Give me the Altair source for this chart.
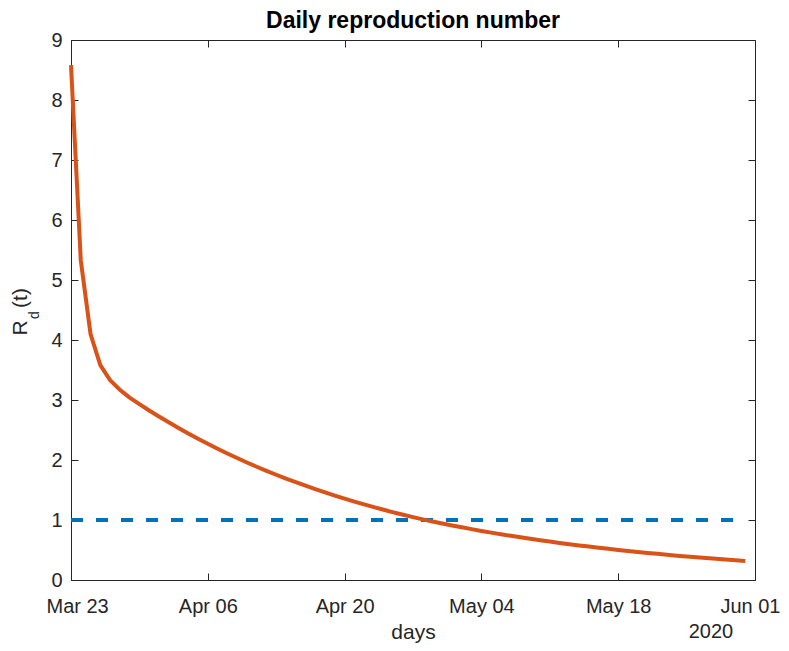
import altair as alt
import pandas as pd

# ---- data ----
start_date = "2020-03-23"
rd_values = [
    8.580, 5.330, 4.100, 3.580, 3.330, 3.170, 3.040, 2.930, 2.826, 2.726,
    2.630, 2.535, 2.443, 2.355, 2.270, 2.188, 2.109, 2.033, 1.959, 1.888,
    1.820, 1.754, 1.691, 1.630, 1.571, 1.514, 1.459, 1.407, 1.356, 1.307,
    1.260, 1.214, 1.170, 1.128, 1.087, 1.048, 1.010, 0.975, 0.942, 0.909,
    0.878, 0.848, 0.818, 0.790, 0.763, 0.737, 0.711, 0.687, 0.663, 0.640,
    0.618, 0.597, 0.576, 0.557, 0.537, 0.519, 0.501, 0.484, 0.467, 0.451,
    0.436, 0.421, 0.406, 0.392, 0.379, 0.366, 0.353, 0.341, 0.329, 0.318,
]
threshold = 1.0
x_tick_dates = ["2020-03-23", "2020-04-06", "2020-04-20", "2020-05-04", "2020-05-18", "2020-06-01"]
x_domain = ["2020-03-23", "2020-06-01"]
y_ticks = [0, 1, 2, 3, 4, 5, 6, 7, 8, 9]
y_domain = [0, 9]
title_text = "Daily reproduction number"
x_title = "days"
year_label = "2020"

FONT = "Liberation Sans"
AX = "#262626"

dates = pd.date_range(start_date, periods=len(rd_values), freq="D")
df = pd.DataFrame({"date": dates.strftime("%Y-%m-%d"), "rd": rd_values})
thr_df = pd.DataFrame({
    "start": [dates[0].strftime("%Y-%m-%d")],
    "end": [dates[-1].strftime("%Y-%m-%d")],
    "value": [threshold],
})


def dt(s):
    y, m, d = (int(p) for p in s.split("-"))
    return alt.DateTime(year=y, month=m, date=d, utc=True)


xscale = alt.Scale(type="utc", domain=[dt(s) for s in x_domain], nice=False)
yscale = alt.Scale(domain=y_domain, nice=False, zero=True)
xvals = [dt(s) for s in x_tick_dates]

common = dict(domain=False, grid=False, tickSize=7, offset=-7,
              tickColor=AX, tickWidth=1)

bottom_axis = alt.Axis(orient="bottom", values=xvals, format="%b %d",
                       labelPadding=16, labelFlush=True, labelFlushOffset=25,
                       title=x_title,
                       titleFontSize=21, titleFontWeight="normal",
                       titleY=65, titleBaseline="alphabetic", **common)
left_axis = alt.Axis(orient="left", values=y_ticks, labelPadding=9,
                     labelFlush=False, title=None, **common)
top_axis = alt.Axis(orient="top", values=xvals, labels=False, title=None,
                    **common)
right_axis = alt.Axis(orient="right", values=y_ticks, labels=False,
                      title=None, **common)

rule = alt.Chart(thr_df).mark_rule(
    color="#0072BD", strokeWidth=4, strokeDash=[12, 13]
).encode(
    x=alt.X("start:T", scale=xscale, axis=top_axis),
    x2="end:T",
    y=alt.Y("value:Q", scale=yscale, axis=right_axis),
)

line = alt.Chart(df).mark_line(color="#D95319", strokeWidth=4).encode(
    x=alt.X("date:T", scale=xscale, axis=bottom_axis),
    y=alt.Y("rd:Q", scale=yscale, axis=left_axis),
)

one = pd.DataFrame({"k": [0]})

ylab_r = alt.Chart(one).mark_text(
    text="R", angle=270, align="center", baseline="alphabetic",
    font=FONT, fontSize=21, color=AX
).encode(x=alt.value(-44), y=alt.value(288))

ylab_d = alt.Chart(one).mark_text(
    text="d", angle=270, align="center", baseline="alphabetic",
    font=FONT, fontSize=14, color=AX
).encode(x=alt.value(-32), y=alt.value(275))

ylab_t = alt.Chart(one).mark_text(
    text="(t)", angle=270, align="center", baseline="alphabetic",
    font=FONT, fontSize=21, color=AX
).encode(x=alt.value(-44), y=alt.value(258))

year = alt.Chart(one).mark_text(
    text=year_label, align="center", baseline="alphabetic",
    font=FONT, fontSize=20, color=AX
).encode(x=alt.value(640), y=alt.value(598))

chart = alt.layer(rule, line, ylab_r, ylab_d, ylab_t, year).properties(
    width=684,
    height=540,
    title=alt.TitleParams(title_text, font=FONT, fontSize=23,
                          fontWeight="bold", color="#000000", offset=-3),
    padding={"left": 63, "top": 32, "right": 26, "bottom": 63},
    autosize=alt.AutoSizeParams(type="none"),
).configure_view(
    stroke=AX, strokeWidth=1
).configure_axis(
    labelFont=FONT, labelFontSize=20, labelColor=AX,
    titleFont=FONT, titleColor=AX
)

chart.save("out.html", embed_options={"renderer": "svg", "actions": False})
